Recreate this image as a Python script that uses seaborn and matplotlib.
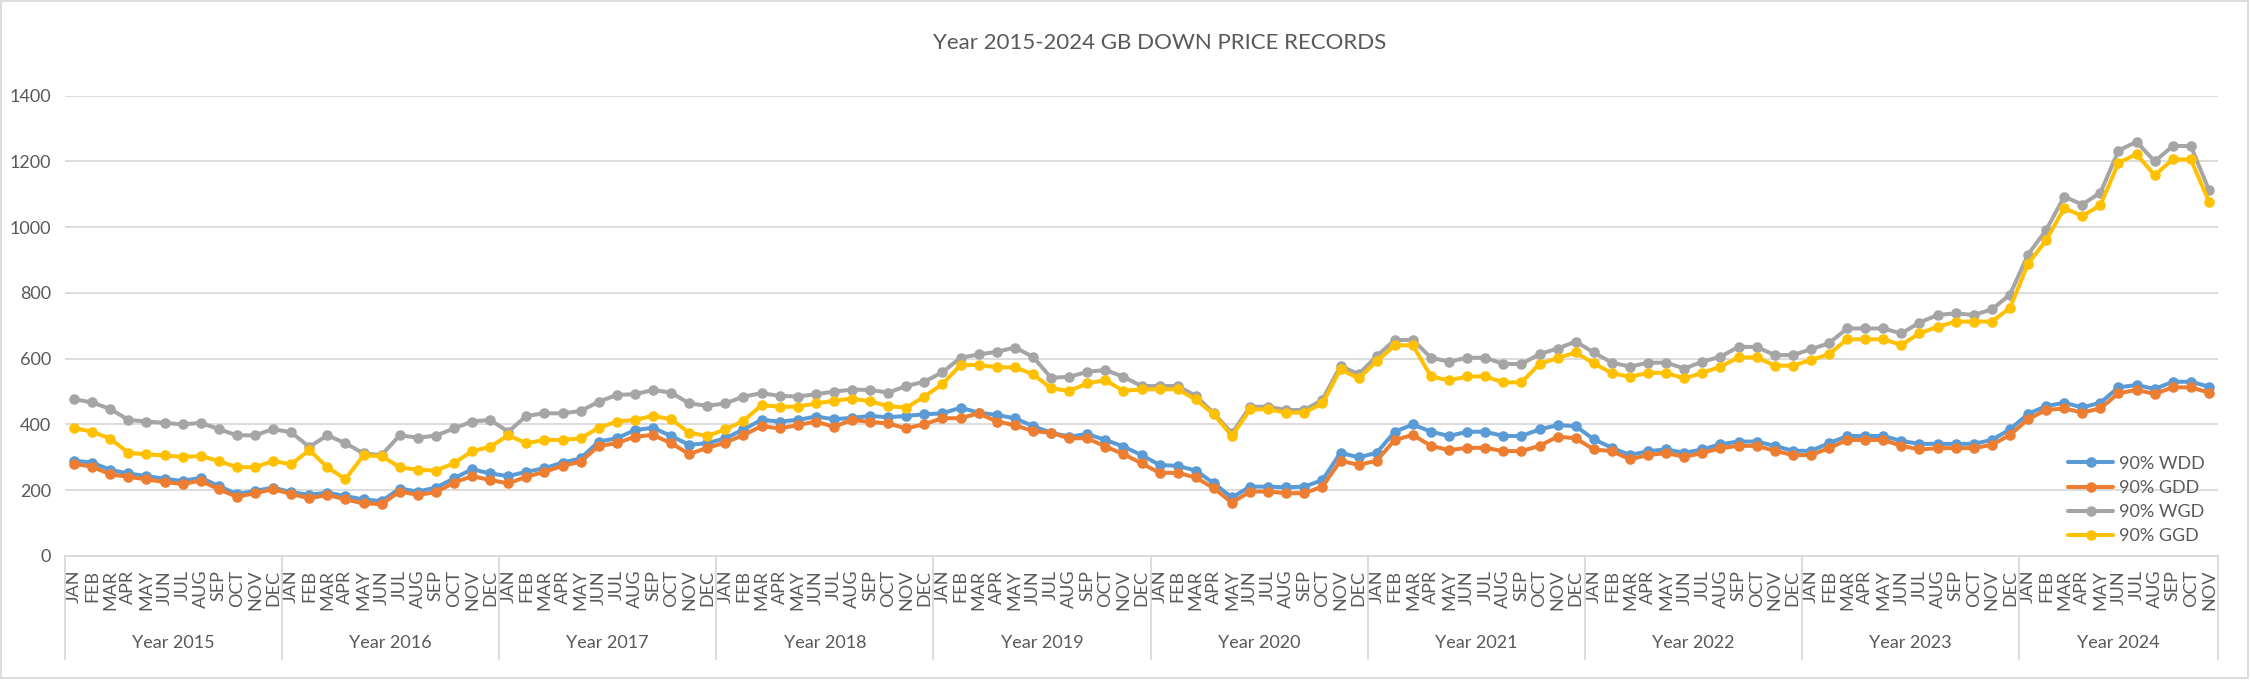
import matplotlib
matplotlib.use("Agg")
import matplotlib.pyplot as plt
from matplotlib.patches import Rectangle
import seaborn as sns

# monthly 90th-percentile down prices, JAN 2015 .. NOV 2024
month_names = ["JAN", "FEB", "MAR", "APR", "MAY", "JUN",
               "JUL", "AUG", "SEP", "OCT", "NOV", "DEC"]
years = [2015, 2016, 2017, 2018, 2019, 2020, 2021, 2022, 2023, 2024]

wdd = [290, 284, 262, 251, 243, 235, 228, 238, 213, 188, 198, 208, 194, 186, 193, 182, 172, 167, 205, 196, 208,
       236, 264, 251, 243, 256, 267, 284, 297, 348, 358, 383, 390, 365, 338, 343, 358, 385, 414, 409, 414, 424, 416, 420, 426,
       422, 426, 431, 434, 451, 436, 429, 419, 395, 375, 363, 371, 353, 333, 307, 277, 274, 260, 221, 178, 211, 211, 209,
       211, 231, 314, 300, 314, 378, 400, 378, 365, 378, 378, 365, 365, 385, 398, 395, 355, 329, 307, 319, 324, 314, 324,
       340, 348, 348, 335, 320, 320, 343, 365, 365, 365, 350, 341, 341, 341, 341, 353, 385, 432, 456, 466, 452, 466, 513, 520, 508, 530, 530, 515]

gdd = [280, 272, 248, 241, 233, 225, 219, 229, 203, 180, 191, 203, 189, 175, 186, 172, 160, 158, 196, 186, 194,
       223, 243, 231, 221, 241, 256, 274, 287, 335, 343, 363, 368, 343, 310, 329, 345, 368, 395, 388, 398, 409, 393, 414, 408,
       403, 388, 401, 419, 419, 434, 409, 398, 380, 375, 358, 358, 333, 310, 282, 253, 253, 239, 206, 162, 196, 196, 191,
       191, 211, 290, 277, 290, 353, 368, 335, 322, 329, 329, 319, 319, 335, 363, 358, 324, 319, 294, 307, 313, 302, 313,
       328, 335, 335, 320, 307, 307, 328, 353, 353, 353, 335, 324, 328, 328, 328, 338, 368, 416, 444, 449, 436, 449, 495, 505, 493, 513, 513, 497]

wgd = [477, 467, 447, 414, 409, 405, 400, 405, 386, 367, 367, 386, 376, 332, 367, 343, 312, 307, 367, 360, 366,
       388, 409, 414, 378, 426, 434, 434, 441, 469, 490, 492, 505, 497, 464, 457, 464, 485, 495, 487, 485, 492, 500, 506, 505,
       497, 517, 530, 559, 603, 613, 621, 634, 606, 542, 545, 560, 566, 545, 517, 517, 517, 487, 434, 373, 454, 454, 444,
       444, 475, 578, 553, 608, 657, 657, 603, 591, 603, 603, 584, 584, 614, 631, 652, 619, 588, 576, 588, 588, 570, 591,
       606, 636, 636, 611, 611, 629, 647, 692, 692, 692, 677, 710, 733, 738, 733, 750, 795, 917, 991, 1093, 1069, 1105, 1233, 1260, 1200, 1247, 1247, 1113]

ggd = [389, 378, 357, 314, 309, 306, 301, 304, 289, 270, 270, 289, 279, 322, 270, 234, 306, 304, 270, 262, 260,
       282, 319, 332, 367, 343, 353, 353, 358, 390, 409, 414, 426, 416, 375, 365, 385, 411, 459, 454, 454, 464, 472, 479, 470,
       456, 451, 485, 523, 581, 581, 574, 574, 553, 510, 502, 525, 535, 502, 507, 507, 507, 476, 431, 365, 446, 446, 436,
       436, 464, 568, 540, 592, 641, 641, 546, 534, 546, 546, 528, 528, 584, 602, 619, 586, 556, 545, 557, 557, 540, 557,
       576, 604, 604, 579, 579, 596, 614, 659, 659, 659, 642, 677, 697, 713, 713, 713, 754, 889, 960, 1058, 1034, 1067, 1196, 1222, 1158, 1206, 1206, 1078]

series_names = ["90% WDD", "90% GDD", "90% WGD", "90% GGD"]
series_colors = ["#5B9BD5", "#ED7D31", "#A5A5A5", "#FFC000"]

sns.set_style("white")
plt.rcParams['font.family'] = ['Lato', 'DejaVu Sans']

TXT = "#595959"
GRID = "#D9D9D9"
W, H = 2251, 682

n = len(wdd)
x = list(range(n))
month_labels = [month_names[i % 12] for i in range(n)]

fig = plt.figure(figsize=(W / 100, H / 100), dpi=100)
ax = fig.add_axes([65 / W, 1 - 556 / H, (2218 - 65) / W, (556 - 95.7) / H])

for vals, name, col in zip([wdd, gdd, wgd, ggd], series_names, series_colors):
    sns.lineplot(x=x, y=vals, ax=ax, color=col, linewidth=2.9, marker='o',
                 markersize=7.6, markeredgewidth=0, label=name)

ax.set_xlim(-0.5, n - 0.5)
ax.set_ylim(0, 1400)
ax.set_yticks(range(0, 1401, 200))
ax.yaxis.grid(True, color=GRID, linewidth=1.3)
ax.set_axisbelow(True)
for s in ["left", "right", "top"]:
    ax.spines[s].set_visible(False)
ax.spines["bottom"].set_color(GRID)
ax.spines["bottom"].set_linewidth(1.3)

ax.set_xticks(x)
ax.set_xticklabels(month_labels, rotation=90)
ax.tick_params(axis='x', length=0, pad=10, labelsize=13, labelcolor=TXT)
ax.tick_params(axis='y', length=0, pad=10, labelsize=13, labelcolor=TXT)
ax.set_xlabel("")
ax.set_ylabel("")

# multi-level category axis: year groups and separators
trans = ax.get_xaxis_transform()
bounds = [-0.5]
for k, yr in enumerate(years):
    idx = [i for i in x if i // 12 == k]
    ax.text(sum(idx) / len(idx), -0.189, f"Year {yr}", transform=trans,
            ha='center', va='center', fontsize=13, color=TXT)
    bounds.append(idx[-1] + 0.5)
for b in bounds:
    ax.plot([b, b], [0, -0.224], transform=trans, color=GRID,
            linewidth=1.3, clip_on=False)

ax.legend(loc='center left', bbox_to_anchor=(2068 / W, 1 - 500 / H),
          bbox_transform=fig.transFigure, frameon=False, fontsize=13,
          handlelength=2.5, handletextpad=0.35, labelspacing=0.45,
          borderpad=0, borderaxespad=0, labelcolor=TXT)

fig.text(1160 / W, 1 - 43 / H, "Year 2015-2024 GB DOWN PRICE RECORDS",
         ha='center', va='center', fontsize=16, color=TXT)

fig.add_artist(Rectangle((1 / W, 1 - 678 / H), 2247 / W, 677 / H,
                         transform=fig.transFigure, fill=False,
                         edgecolor=GRID, linewidth=1.3))

fig.savefig("out.png", dpi=100)
